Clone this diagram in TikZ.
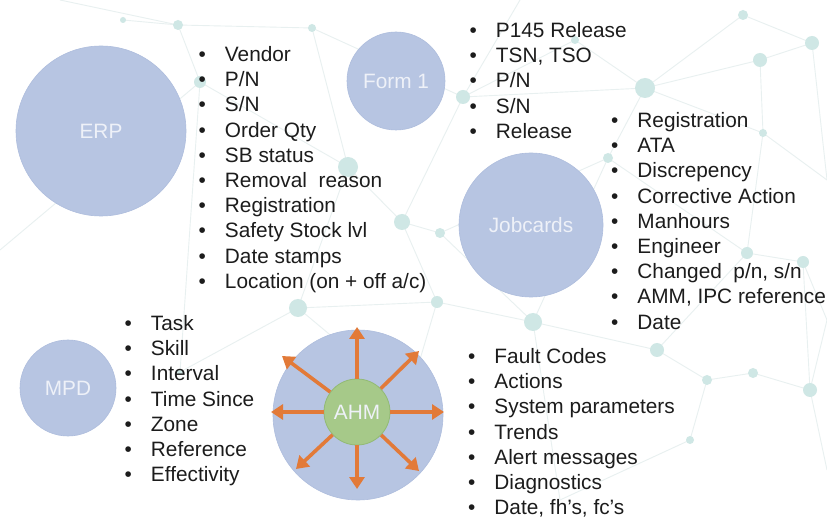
\documentclass[tikz,border=0pt]{standalone}
\usepackage{fontspec}
\setmainfont{Liberation Sans}
\usetikzlibrary{arrows.meta}
\definecolor{bub}{RGB}{183,197,226}
\definecolor{bubedge}{RGB}{174,189,221}
\definecolor{lab}{RGB}{238,241,248}
\definecolor{ahmg}{RGB}{166,201,137}
\definecolor{ahmedge}{RGB}{146,186,116}
\definecolor{arr}{RGB}{226,122,56}
\definecolor{netline}{RGB}{232,240,240}
\definecolor{netdot}{RGB}{207,231,229}
\definecolor{txt}{RGB}{28,28,28}
\newcommand\itemlist[1]{\begin{tabular}[t]{@{}l@{\hspace{19pt}}l@{}}#1\end{tabular}}
\begin{document}
\begin{tikzpicture}[x=1pt,y=-1pt,
  bubble/.style={circle, inner sep=0pt, fill=bub, draw=bubedge, line width=0.6pt,
    text=lab, font=\fontsize{20.8}{25}\selectfont},
  ahmcore/.style={circle, inner sep=0pt, fill=ahmg, draw=ahmedge, line width=0.8pt,
    text=lab, font=\fontsize{20.8}{25}\selectfont},
  itembox/.style={inner sep=0pt, anchor=base west, text=txt,
    font=\fontsize{20.8}{25.2}\selectfont},
  ahmarrow/.style={draw=arr, line width=3.6pt, -{Triangle[length=12pt,width=15pt]}},
  netl/.style={draw=netline, line width=0.9pt},
  netd/.style={fill=netdot}
]
\useasboundingbox[fill=white] (0,0) rectangle (827,518);

% background network
\foreach \n/\x/\y in {d1/178/25, d2/312/28, d3/200/82, d4/348/167, d5/402/222,
  d6/298/308, d7/437/302, d8/463/97, d9/645/88, d10/760/60, d11/812/43, d12/743/15,
  d13/533/322, d14/608/158, d15/747/253, d16/803/262, d17/763/133, d18/408/400,
  d19/657/350, d20/707/380, d21/810/390, d22/753/373, d23/440/233, d24/180/372,
  d25/123/20, d26/575/40, d27/690/440, d28/827/320, d29/827/180, d30/0/250,
  d31/60/0, d32/520/0, d33/560/500, d34/827/470}
  \coordinate (\n) at (\x,\y);
\foreach \a/\b in {d1/d2, d1/d3, d3/d4, d2/d4, d4/d5, d5/d7, d5/d23, d23/d13,
  d7/d13, d6/d7, d6/d24, d6/d18, d8/d2, d8/d9, d8/d5, d9/d10, d9/d12, d10/d11,
  d10/d17, d9/d14, d14/d13, d17/d15, d15/d16, d15/d19, d19/d20, d20/d22, d22/d21,
  d16/d21, d13/d19, d9/d17, d12/d11, d18/d7, d24/d3, d25/d1, d26/d8, d26/d9,
  d20/d27, d27/d33, d16/d28, d21/d28, d11/d29, d17/d29, d30/d3, d31/d1, d32/d8,
  d13/d33, d21/d34, d14/d15, d4/d6, d23/d14}
  \draw[netl] (\a) -- (\b);
\foreach \n/\r in {d1/5, d2/4, d3/6, d4/10, d5/8, d6/9, d7/6, d8/7, d9/10, d10/7,
  d11/7, d12/5, d13/9, d14/5, d15/6, d16/6, d17/4, d18/5, d19/7, d20/5, d21/7,
  d22/5, d23/5, d24/3, d25/3, d26/4, d27/4}
  \fill[netd] (\n) circle (\r);

% bubbles
\node[bubble, minimum size=170pt] (erp) at (101,131) {ERP};
\node[bubble, minimum size=98pt] (form) at (396,81) {Form 1};
\node[bubble, minimum size=144pt] (job) at (531,225) {Jobcards};
\node[bubble, minimum size=96pt] (mpd) at (68,388) {MPD};
\node[bubble, minimum size=170pt] (ahmouter) at (358,415) {};
\node[ahmcore, minimum size=66pt] (ahm) at (357,412) {AHM};

% AHM arrows
\coordinate (tN) at (357,327);
\coordinate (tS) at (357,489);
\coordinate (tE) at (444,412);
\coordinate (tW) at (271,412);
\coordinate (tNE) at (419,351);
\coordinate (tNW) at (282,356);
\coordinate (tSE) at (419,471);
\coordinate (tSW) at (296,469);
\foreach \t in {tN,tS,tE,tW,tNE,tNW,tSE,tSW}
  \draw[ahmarrow] (ahm) -- (\t);

% lists
\node[itembox] (erplist) at (198.5,61.5) {\itemlist{%
\textbullet & Vendor\\
\textbullet & P/N\\
\textbullet & S/N\\
\textbullet & Order Qty\\
\textbullet & SB status\\
\textbullet & Removal~ reason\\
\textbullet & Registration\\
\textbullet & Safety Stock lvl\\
\textbullet & Date stamps\\
\textbullet & Location (on + off a/c)}};

\node[itembox] (formlist) at (469.5,37.5) {\itemlist{%
\textbullet & P145 Release\\
\textbullet & TSN, TSO\\
\textbullet & P/N\\
\textbullet & S/N\\
\textbullet & Release}};

\node[itembox] (joblist) at (611,127.5) {\itemlist{%
\textbullet & Registration\\
\textbullet & ATA\\
\textbullet & Discrepency\\
\textbullet & Corrective Action\\
\textbullet & Manhours\\
\textbullet & Engineer\\
\textbullet & Changed~ p/n, s/n\\
\textbullet & AMM, IPC reference\\
\textbullet & Date}};

\node[itembox] (mpdlist) at (124.5,330.5) {\itemlist{%
\textbullet & Task\\
\textbullet & Skill\\
\textbullet & Interval\\
\textbullet & Time Since\\
\textbullet & Zone\\
\textbullet & Reference\\
\textbullet & Effectivity}};

\node[itembox] (ahmlist) at (468,363.5) {\itemlist{%
\textbullet & Fault Codes\\
\textbullet & Actions\\
\textbullet & System parameters\\
\textbullet & Trends\\
\textbullet & Alert messages\\
\textbullet & Diagnostics\\
\textbullet & Date, fh's, fc's}};
\end{tikzpicture}
\end{document}
